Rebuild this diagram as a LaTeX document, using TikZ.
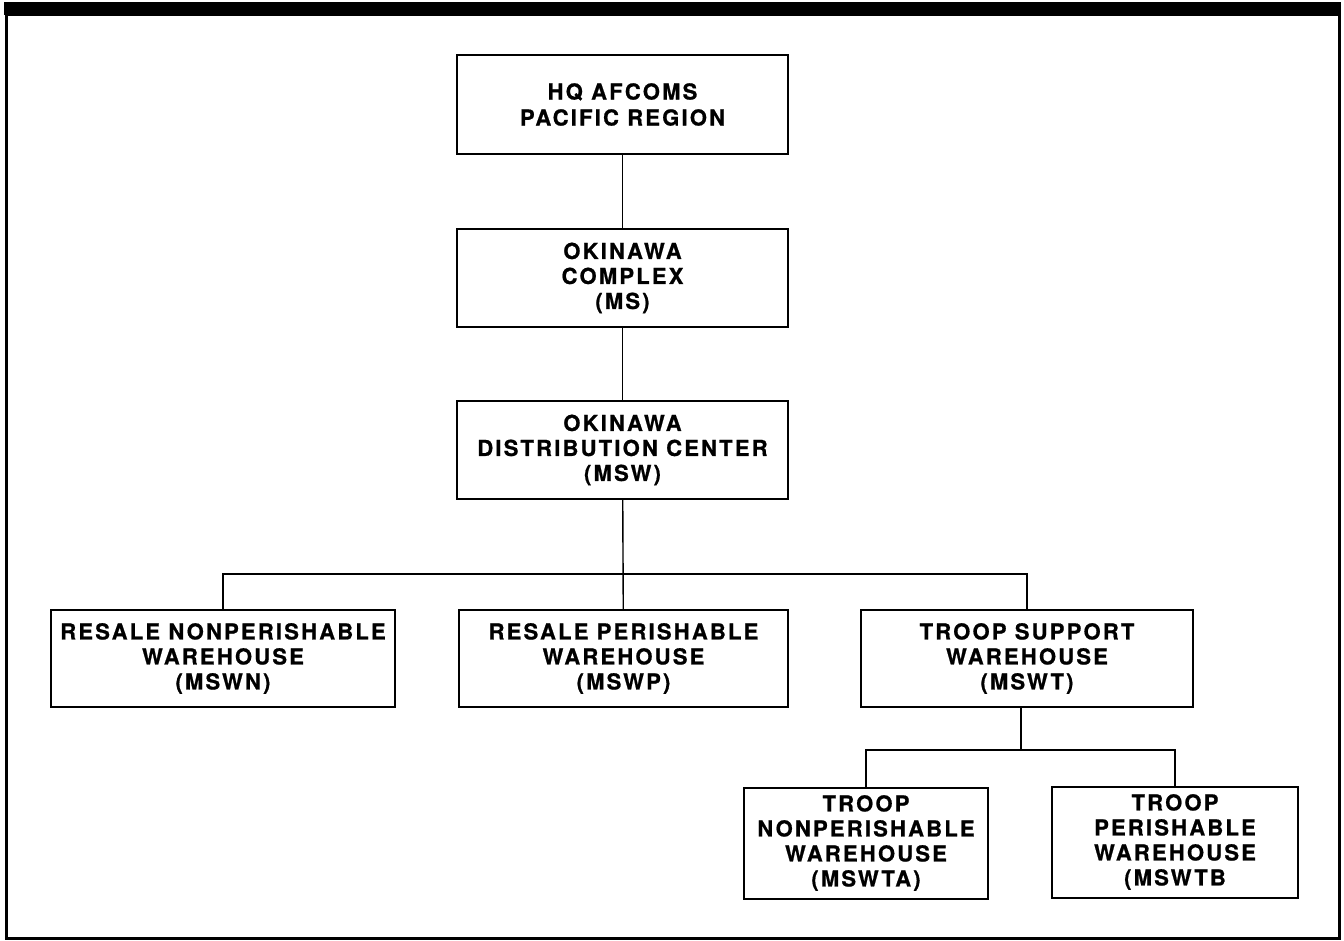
\documentclass[tikz,border=0pt]{standalone}
\usepackage{fontspec}
\newfontfamily\chartfont[LetterSpace=10,BoldFeatures={FakeBold=0.8}]{TeX Gyre Heros}
\tikzset{
    unit/.style={draw,line width=2pt,align=center,inner sep=0pt,
        font=\chartfont\bfseries\fontsize{22}{25}\selectfont},
    link/.style={line width=1.4pt}
}
\begin{document}
\begin{tikzpicture}[x=1pt,y=-1pt]
        \fill[white] (0,0) rectangle (1344,940);
        \fill (4,2) rectangle (1341,15);
        \draw[line width=3pt] (6,14) rectangle (1339,938);
        \node[unit,minimum width=331pt,minimum height=99pt] (hq) at (622.5,104.5) {HQ AFCOMS\\[1pt]PACIFIC REGION};
        \node[unit,minimum width=331pt,minimum height=98pt] (ms) at (622.5,278) {OKINAWA\\COMPLEX\\(MS)};
        \node[unit,minimum width=331pt,minimum height=98pt] (msw) at (622.5,450) {OKINAWA\\DISTRIBUTION CENTER\\(MSW)};
        \node[unit,minimum width=344pt,minimum height=97pt] (mswn) at (223,658.5) {RESALE NONPERISHABLE\\WAREHOUSE\\(MSWN)};
        \node[unit,minimum width=329pt,minimum height=97pt] (mswp) at (623.5,658.5) {RESALE PERISHABLE\\WAREHOUSE\\(MSWP)};
        \node[unit,minimum width=332pt,minimum height=97pt] (mswt) at (1027,658.5) {TROOP SUPPORT\\WAREHOUSE\\(MSWT)};
        \node[unit,minimum width=244pt,minimum height=111pt] (mswta) at (866,843) {TROOP\\NONPERISHABLE\\WAREHOUSE\\(MSWTA)};
        \node[unit,minimum width=246pt,minimum height=111pt] (mswtb) at (1175,842) {TROOP\\PERISHABLE\\WAREHOUSE\\(MSWTB};
        \coordinate (bus) at (623.5,574);
        \coordinate (tbus) at (1021,750);
        \draw[link] (hq) -- (ms);
        \draw[link] (ms) -- (msw);
        \draw[link] (msw) -- (mswp);
        \draw[link] (mswn.north) |- (bus) -| (mswt.north);
        \draw[link] (mswt.south -| tbus) -- (tbus);
        \draw[link] (mswta.north) |- (tbus) -| (mswtb.north);
\end{tikzpicture}
\end{document}
